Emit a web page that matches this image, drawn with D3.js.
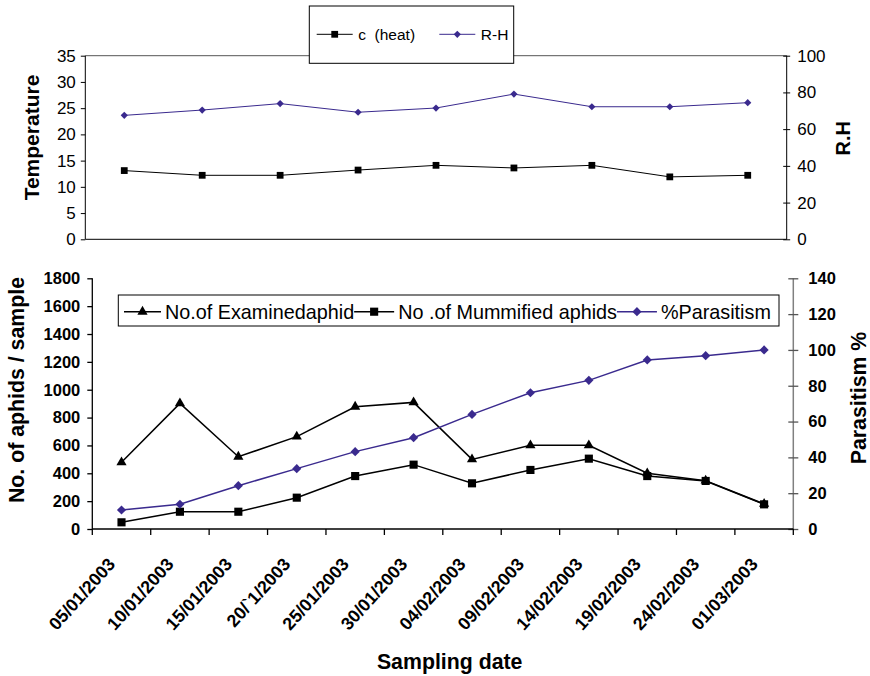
<!DOCTYPE html>
<html>
<head>
<meta charset="utf-8">
<script src="https://cdn.jsdelivr.net/npm/d3@7/dist/d3.min.js"></script>
<style>
  html, body { margin: 0; padding: 0; background: #fff; }
  svg { display: block; font-family: "Liberation Sans", Arial, Helvetica, sans-serif; }
</style>
</head>
<body>
<svg id="chart" width="870" height="676"></svg>
<script>
// ---- Weather panel (9 weekly readings) ----
const weatherWeeks = [1, 2, 3, 4, 5, 6, 7, 8, 9];
const temperature = [13.1, 12.2, 12.2, 13.2, 14.1, 13.6, 14.1, 11.9, 12.2];
const relHumidity = [67.5, 70.4, 73.9, 69.2, 71.5, 79.1, 72.2, 72.2, 74.4];
const tempTicks = [0, 5, 10, 15, 20, 25, 30, 35];
const rhTicks = [0, 20, 40, 60, 80, 100];

// ---- Aphid panel (12 sampling dates) ----
const samplingDates = ["05/01/2003", "10/01/2003", "15/01/2003", "20/`1/2003",
  "25/01/2003", "30/01/2003", "04/02/2003", "09/02/2003", "14/02/2003",
  "19/02/2003", "24/02/2003", "01/03/2003"];
const examinedAphids = [479, 902, 519, 663, 878, 909, 500, 601, 601, 400, 347, 180];
const mummifiedAphids = [48, 124, 124, 225, 380, 462, 328, 424, 505, 380, 345, 177];
const parasitismPct = [10.6, 13.8, 24.2, 33.7, 43.2, 51.0, 64.0, 76.1, 83.0, 94.4, 96.8, 100];
const aphidTicks = [0, 200, 400, 600, 800, 1000, 1200, 1400, 1600, 1800];
const pctTicks = [0, 20, 40, 60, 80, 100, 120, 140];

const PURPLE = "#3a2a8e";
const plain = d3.format("d");
const svg = d3.select("#chart");

function marker(kind, size) {
  const type = kind === "triangle" ? d3.symbolTriangle : d3.symbolSquare;
  return d3.symbol().type(type).size(size)();
}

function drawSeries(g, x, y, cats, vals, opt) {
  g.append("path")
    .datum(vals)
    .attr("fill", "none")
    .attr("stroke", opt.color)
    .attr("stroke-width", opt.width)
    .attr("d", d3.line().x((d, i) => x(cats[i]) + x.bandwidth() / 2).y(d => y(d)));
  g.selectAll(null).data(vals).enter().append("path")
    .attr("d", marker(opt.kind, opt.size))
    .attr("fill", opt.color)
    .attr("transform", (d, i) => `translate(${x(cats[i]) + x.bandwidth() / 2},${y(d)})` +
      (opt.kind === "diamond" ? " rotate(45)" : ""));
}

// ================= Weather panel =================
{
  const L = 85.3, R = 786.7, T = 55.7, B = 239.3;
  const x = d3.scaleBand().domain(weatherWeeks).range([L, R]);
  const yT = d3.scaleLinear().domain([0, 35]).range([B, T]);
  const yH = d3.scaleLinear().domain([0, 100]).range([B, T]);
  const g = svg.append("g");

  // plot frame
  g.append("line").attr("x1", L).attr("x2", R).attr("y1", T).attr("y2", T)
    .attr("stroke", "#555").attr("stroke-width", 1);

  const left = g.append("g").attr("transform", `translate(${L},0)`)
    .call(d3.axisLeft(yT).tickValues(tempTicks).tickFormat(plain).tickSize(4.5).tickPadding(5));
  left.select(".domain").attr("d", `M0,${B}V${T}`);
  left.selectAll("text").attr("font-size", 17).attr("fill", "#000").attr("font-family", null);

  const right = g.append("g").attr("transform", `translate(${R},0)`)
    .call(d3.axisRight(yH).tickValues(rhTicks).tickFormat(plain).tickSize(3.5).tickPadding(7));
  right.select(".domain").attr("d", `M0,${B}V${T}`);
  right.selectAll(".tick line").attr("x1", -3.5);
  right.selectAll("text").attr("font-size", 17).attr("fill", "#000").attr("font-family", null);

  const bottom = g.append("g").attr("transform", `translate(0,${B})`)
    .call(d3.axisBottom(x).tickSize(0).tickFormat(""));
  bottom.select(".domain").attr("d", `M${L},0H${R}`);

  drawSeries(g, x, yT, weatherWeeks, temperature, { color: "#000", width: 1, kind: "square", size: 46 });
  drawSeries(g, x, yH, weatherWeeks, relHumidity, { color: PURPLE, width: 1, kind: "diamond", size: 26 });

  // axis titles
  g.append("text").attr("transform", "translate(39,137.5) rotate(-90)")
    .attr("text-anchor", "middle").attr("font-weight", "bold").attr("font-size", 21)
    .text("Temperature");
  g.append("text").attr("transform", "translate(850,138.3) rotate(-90)")
    .attr("text-anchor", "middle").attr("font-weight", "bold").attr("font-size", 20)
    .text("R.H");

  // legend
  const lg = g.append("g");
  lg.append("rect").attr("x", 309.3).attr("y", 6).attr("width", 204.4).attr("height", 57.3)
    .attr("fill", "#fff").attr("stroke", "#000").attr("stroke-width", 1);
  const items = [
    { label: "c  (heat)", color: "#000", kind: "square", size: 46, x0: 316.7 },
    { label: "R-H", color: PURPLE, kind: "diamond", size: 26, x0: 439.3 }
  ];
  items.forEach(it => {
    lg.append("line").attr("x1", it.x0).attr("x2", it.x0 + 36).attr("y1", 34.3).attr("y2", 34.3)
      .attr("stroke", it.color).attr("stroke-width", 1);
    lg.append("path").attr("d", marker(it.kind, it.size)).attr("fill", it.color)
      .attr("transform", `translate(${it.x0 + 18},34.3)` + (it.kind === "diamond" ? " rotate(45)" : ""));
    lg.append("text").attr("x", it.x0 + 41.5).attr("y", 39.8).attr("font-size", 15.5)
      .attr("xml:space", "preserve").style("white-space", "pre").text(it.label);
  });
}

// ================= Aphid panel =================
{
  const L = 92.3, R = 793.3, T = 278.3, B = 529;
  const x = d3.scaleBand().domain(samplingDates).range([L, R]);
  const yA = d3.scaleLinear().domain([0, 1800]).range([B, T]);
  const yP = d3.scaleLinear().domain([0, 140]).range([B, T]);
  const g = svg.append("g");

  const left = g.append("g").attr("transform", `translate(${L},0)`)
    .call(d3.axisLeft(yA).tickValues(aphidTicks).tickFormat(plain).tickSize(5).tickPadding(7));
  left.select(".domain").attr("d", `M0,${B}V${T}`).attr("stroke-width", 1.3);
  left.selectAll(".tick line").attr("stroke-width", 1.3);
  left.selectAll("text").attr("font-size", 16.5).attr("font-weight", "bold")
    .attr("fill", "#000").attr("font-family", null);

  const right = g.append("g").attr("transform", `translate(${R},0)`)
    .call(d3.axisRight(yP).tickValues(pctTicks).tickFormat(plain).tickSize(5).tickPadding(10));
  right.select(".domain").attr("d", `M0,${B}V${T}`).attr("stroke", "#808080").attr("stroke-width", 1.5);
  right.selectAll(".tick line").attr("x1", -5).attr("stroke", "#555").attr("stroke-width", 1.3);
  right.selectAll("text").attr("font-size", 16.5).attr("font-weight", "bold")
    .attr("fill", "#000").attr("font-family", null);

  // category boundaries as ticks on the date axis
  const bottom = g.append("g").attr("transform", `translate(0,${B})`);
  bottom.append("line").attr("x1", L).attr("x2", R).attr("stroke", "#000").attr("stroke-width", 1.3);
  bottom.selectAll(".bnd").data(samplingDates).enter().append("line")
    .attr("x1", d => x(d)).attr("x2", d => x(d)).attr("y1", 0).attr("y2", 6)
    .attr("stroke", "#000").attr("stroke-width", 1.3);
  bottom.append("line").attr("x1", R).attr("x2", R).attr("y1", 0).attr("y2", 6)
    .attr("stroke", "#000").attr("stroke-width", 1.3);
  bottom.selectAll(".lbl").data(samplingDates).enter().append("text")
    .attr("transform", d => `translate(${x(d) + x.bandwidth() / 2 - 5.3},${36}) rotate(-48)`)
    .attr("text-anchor", "end").attr("font-weight", "bold").attr("font-size", 17.8)
    .text(d => d);

  drawSeries(g, x, yA, samplingDates, examinedAphids, { color: "#000", width: 1.5, kind: "triangle", size: 45 });
  drawSeries(g, x, yA, samplingDates, mummifiedAphids, { color: "#000", width: 1.5, kind: "square", size: 66 });
  drawSeries(g, x, yP, samplingDates, parasitismPct, { color: PURPLE, width: 1.5, kind: "diamond", size: 42 });

  // axis titles
  g.append("text").attr("transform", "translate(23.5,390) rotate(-90)")
    .attr("text-anchor", "middle").attr("font-weight", "bold").attr("font-size", 21.3)
    .text("No. of aphids / sample");
  g.append("text").attr("transform", "translate(865.5,398) rotate(-90)")
    .attr("text-anchor", "middle").attr("font-weight", "bold").attr("font-size", 21.3)
    .text("Parasitism %");
  g.append("text").attr("x", 449.7).attr("y", 668.5)
    .attr("text-anchor", "middle").attr("font-weight", "bold").attr("font-size", 21.3)
    .text("Sampling date");

  // legend
  const lg = g.append("g");
  lg.append("rect").attr("x", 118.3).attr("y", 295).attr("width", 660.7).attr("height", 31)
    .attr("fill", "#fff").attr("stroke", "#000").attr("stroke-width", 1);
  const items = [
    { label: "No.of Examinedaphid", color: "#000", kind: "triangle", size: 45 },
    { label: "No .of Mummified aphids", color: "#000", kind: "square", size: 66 },
    { label: "%Parasitism", color: PURPLE, kind: "diamond", size: 42 }
  ];
  let cx = 124;
  items.forEach((it, i) => {
    const len = i === 0 ? 37 : 40;
    lg.append("line").attr("x1", cx).attr("x2", cx + len).attr("y1", 311.7).attr("y2", 311.7)
      .attr("stroke", it.color).attr("stroke-width", 1.5);
    lg.append("path").attr("d", marker(it.kind, it.size)).attr("fill", it.color)
      .attr("transform", `translate(${cx + len / 2},311.7)` + (it.kind === "diamond" ? " rotate(45)" : ""));
    const t = lg.append("text").attr("x", cx + len + 4).attr("y", 319.3).attr("font-size", 19.8)
      .text(it.label);
    cx = cx + len + 4 + t.node().getComputedTextLength();
  });
}
</script>
</body>
</html>
